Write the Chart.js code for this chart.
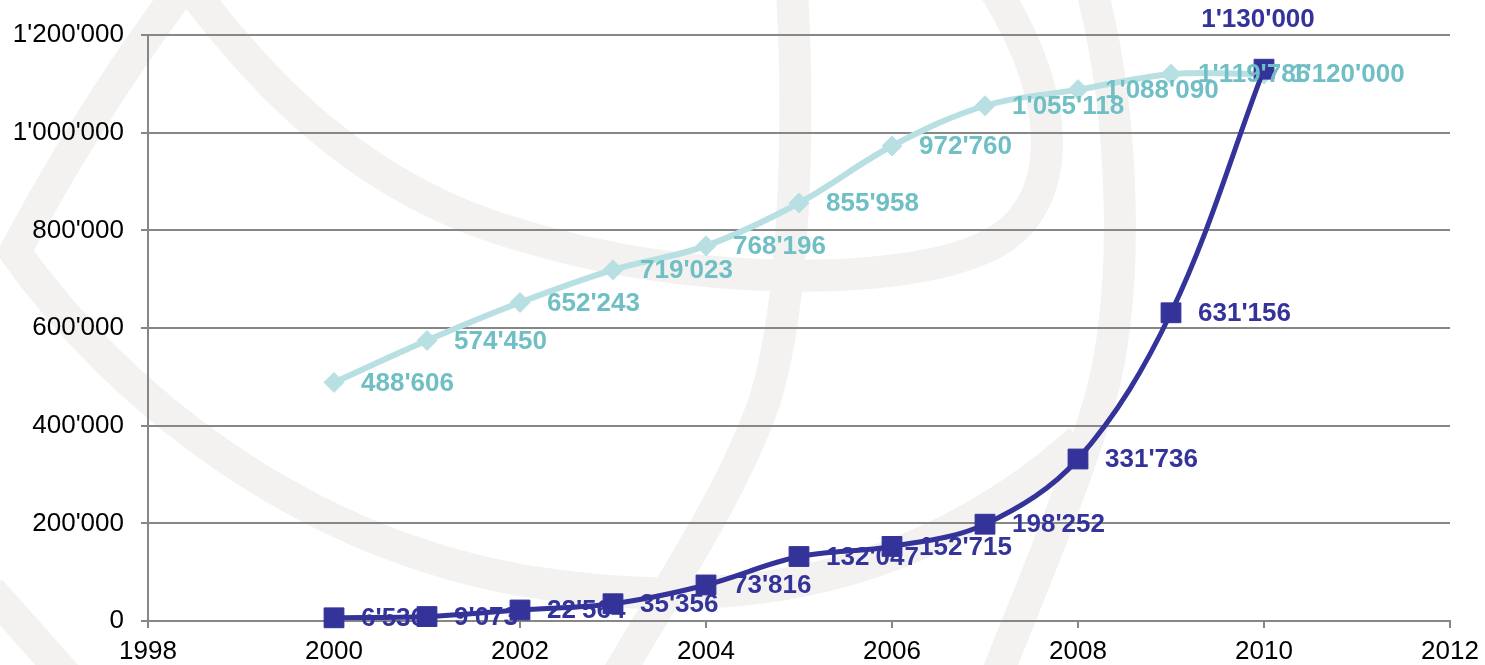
<!DOCTYPE html>
<html>
<head>
<meta charset="utf-8">
<title>Chart</title>
<script src="https://cdn.jsdelivr.net/npm/chart.js@4.4.1/dist/chart.umd.min.js"></script>
<style>
  html, body { margin: 0; padding: 0; background: #fff; }
  #wrap { width: 1485px; height: 665px; position: relative; }
</style>
</head>
<body>
<div id="wrap"><canvas id="chart"></canvas></div>
<script>
// data
const years = [2000, 2001, 2002, 2003, 2004, 2005, 2006, 2007, 2008, 2009, 2010];
const lightValues = [488606, 574450, 652243, 719023, 768196, 855958, 972760, 1055118, 1088090, 1119786, 1120000];
const darkValues = [6536, 9073, 22564, 35356, 73816, 132047, 152715, 198252, 331736, 631156, 1130000];
const xTicks = [1998, 2000, 2002, 2004, 2006, 2008, 2010, 2012];
const yTicks = [0, 200000, 400000, 600000, 800000, 1000000, 1200000];

const DARK = '#333399';
const LIGHT_LINE = '#b8e0e3';
const LIGHT_TEXT = '#6fbfc5';
const GRID = '#878787';
const FONT = '"Liberation Sans", Arial, sans-serif';

// 1'234'567 style
function fmt(n) {
  return String(n).replace(/\B(?=(\d{3})+(?!\d))/g, "'");
}

// faint grey swooshes behind the plot
const backdrop = {
  id: 'backdrop',
  beforeDraw(chart) {
    const ctx = chart.ctx;
    ctx.save();
    ctx.strokeStyle = '#f3f2f0';
    ctx.lineWidth = 32;
    ctx.lineJoin = 'miter';

    ctx.beginPath();
    ctx.moveTo(188, -20);
    ctx.quadraticCurveTo(90, 110, 15, 252);
    ctx.bezierCurveTo(120, 400, 300, 540, 520, 580);
    ctx.bezierCurveTo(700, 610, 900, 600, 1080, 440);
    ctx.stroke();

    ctx.beginPath();
    ctx.moveTo(192, -10);
    ctx.bezierCurveTo(260, 80, 360, 190, 520, 235);
    ctx.bezierCurveTo(680, 285, 900, 290, 990, 245);
    ctx.bezierCurveTo(1060, 210, 1070, 110, 995, -10);
    ctx.stroke();

    ctx.beginPath();
    ctx.moveTo(792, -10);
    ctx.bezierCurveTo(800, 130, 795, 300, 765, 400);
    ctx.bezierCurveTo(730, 500, 660, 600, 615, 680);
    ctx.stroke();

    ctx.beginPath();
    ctx.moveTo(1092, -10);
    ctx.bezierCurveTo(1125, 120, 1130, 290, 1100, 400);
    ctx.bezierCurveTo(1070, 500, 1030, 590, 995, 680);
    ctx.stroke();

    ctx.beginPath();
    ctx.moveTo(-10, 590);
    ctx.lineTo(70, 680);
    ctx.stroke();

    ctx.restore();
  }
};

// value labels next to each point
const valueLabels = {
  id: 'valueLabels',
  afterDatasetsDraw(chart) {
    const ctx = chart.ctx;
    ctx.save();
    ctx.font = 'bold 26px ' + FONT;
    chart.data.datasets.forEach((ds, di) => {
      const meta = chart.getDatasetMeta(di);
      ctx.fillStyle = ds.labelColor;
      meta.data.forEach((pt, i) => {
        const text = fmt(ds.data[i].y);
        ctx.textBaseline = 'middle';
        if (ds.labelAbove === i) {
          ctx.textAlign = 'center';
          ctx.fillText(text, pt.x - 6, pt.y - 49);
        } else {
          ctx.textAlign = 'left';
          ctx.fillText(text, pt.x + 27, pt.y + 1);
        }
      });
    });
    ctx.restore();
  }
};

new Chart(document.getElementById('chart'), {
  type: 'line',
  data: {
    datasets: [
      {
        label: 'dark',
        data: years.map((x, i) => ({ x, y: darkValues[i] })),
        borderColor: DARK,
        backgroundColor: DARK,
        borderWidth: 5,
        pointStyle: 'rect',
        pointRadius: 14,
        pointBorderWidth: 1,
        tension: 0.35,
        clip: false,
        labelColor: DARK,
        labelAbove: 10
      },
      {
        label: 'light',
        data: years.map((x, i) => ({ x, y: lightValues[i] })),
        borderColor: LIGHT_LINE,
        backgroundColor: LIGHT_LINE,
        borderWidth: 6,
        pointStyle: 'rectRot',
        pointRadius: 10,
        pointBorderWidth: 1,
        tension: 0.35,
        clip: false,
        labelColor: LIGHT_TEXT
      }
    ]
  },
  options: {
    responsive: true,
    maintainAspectRatio: false,
    animation: false,
    layout: { padding: { left: 13, right: 35, top: 35, bottom: 0 } },
    plugins: {
      legend: { display: false },
      tooltip: { enabled: false }
    },
    scales: {
      x: {
        type: 'linear',
        min: 1998,
        max: 2012,
        afterBuildTicks: axis => { axis.ticks = xTicks.map(v => ({ value: v })); },
        afterFit: axis => { axis.height = 44; axis.paddingRight = 0; },
        ticks: {
          callback: v => String(v),
          color: '#000',
          font: { family: FONT, size: 26, lineHeight: 1 },
          padding: 11,
          maxRotation: 0,
          autoSkip: false
        },
        grid: { drawOnChartArea: false, drawTicks: true, tickLength: 7, color: GRID, lineWidth: 2 },
        border: { color: GRID, width: 2 }
      },
      y: {
        min: 0,
        max: 1200000,
        afterBuildTicks: axis => { axis.ticks = yTicks.map(v => ({ value: v })); },
        afterFit: axis => { axis.width = 135; },
        ticks: {
          callback: v => fmt(v),
          color: '#000',
          font: { family: FONT, size: 26 },
          padding: 17
        },
        grid: { color: GRID, lineWidth: 2, tickLength: 7 },
        border: { color: GRID, width: 2 }
      }
    }
  },
  plugins: [backdrop, valueLabels]
});
</script>
</body>
</html>
